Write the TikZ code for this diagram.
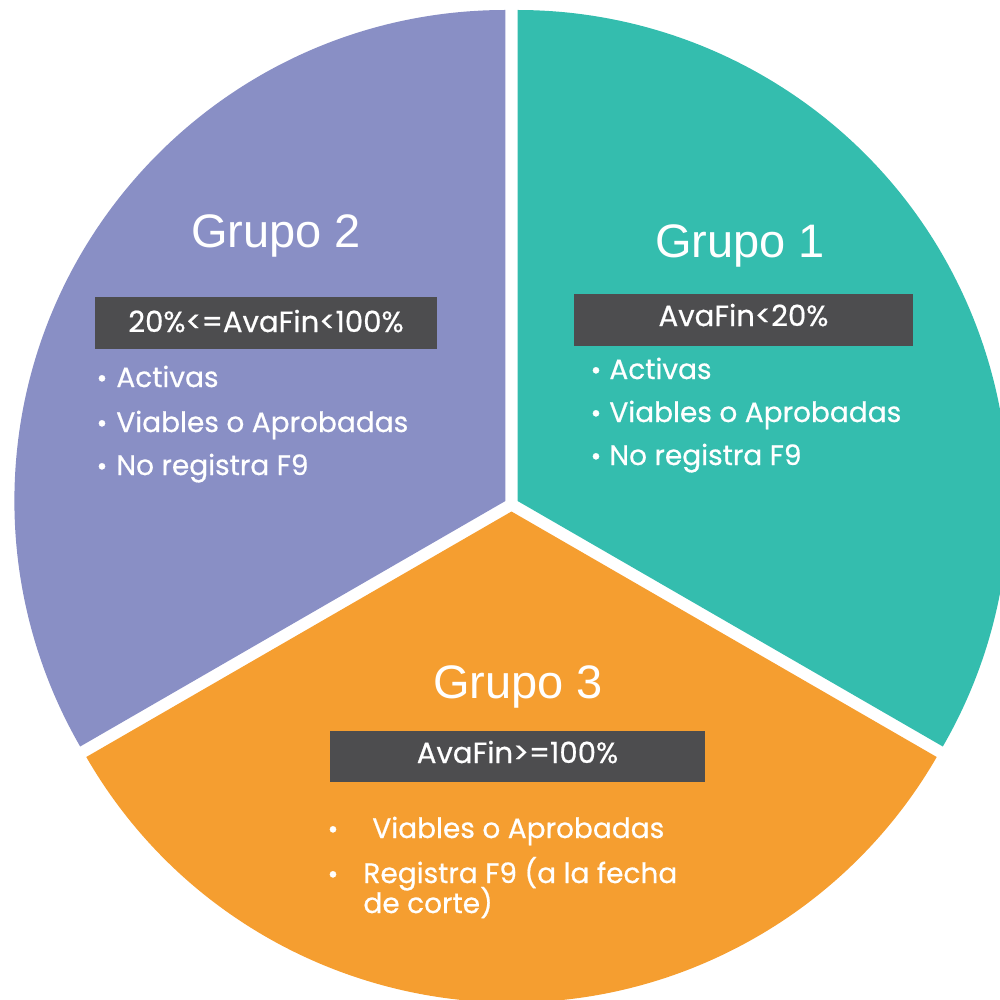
\documentclass[tikz,border=0pt]{standalone}
\usepackage{fontspec}
\setmainfont{Poppins}[FakeBold=0.6]
\newfontfamily\titlefont{Liberation Sans}
\definecolor{gpurple}{RGB}{137,143,197}
\definecolor{gteal}{RGB}{52,189,174}
\definecolor{gorange}{RGB}{245,158,48}
\definecolor{gbox}{RGB}{77,77,79}
\tikzset{
  titletxt/.style={text=white, font=\titlefont\fontsize{23.5}{28}\selectfont, anchor=base, inner sep=0pt},
  condbox/.style={fill=gbox, inner sep=0pt},
  condtxt/.style={text=white, font=\fontsize{14.6}{17}\selectfont, anchor=base, inner sep=0pt},
  bodytxt/.style={text=white, font=\fontsize{14}{17}\selectfont, anchor=base west, inner sep=0pt},
  bul/.style={text=white, font=\fontsize{13}{16}\selectfont, anchor=base, inner sep=0pt},
}
\begin{document}
\begin{tikzpicture}[x=0.5pt,y=0.5pt]
\useasboundingbox (0,0) rectangle (1000,-1000);
\clip (0,0) rectangle (1000,-1000);
% sectors
\fill[gpurple] (505.4,-501) -- ++(90:491) arc[start angle=90, end angle=210, radius=491] -- cycle;
\fill[gteal] (517.6,-501) -- ++(-30:491) arc[start angle=-30, end angle=90, radius=491] -- cycle;
\fill[gorange] (511.5,-511.5) -- ++(210:491) arc[start angle=210, end angle=330, radius=491] -- cycle;
% titles
\node[titletxt] (t2) at (276,-248) {Grupo 2};
\node[titletxt] (t1) at (740,-257) {Grupo 1};
\node[titletxt] (t3) at (518,-698) {Grupo 3};
% condition boxes
\path[condbox] (95,-297) rectangle (437,-349);
\node[condtxt] (c2) at (266,-332) {20\%<=AvaFin<100\%};
\path[condbox] (574,-294) rectangle (913,-346);
\node[condtxt] (c1) at (743.5,-326) {AvaFin<20\%};
\path[condbox] (330,-731) rectangle (705,-782);
\node[condtxt] (c3) at (517.5,-763) {AvaFin>=100\%};
% group 2 bullets
\node[bul] (b21) at (102,-387) {\textbullet};
\node[bodytxt] (l21) at (116,-387) {Activas};
\node[bul] (b22) at (102,-432) {\textbullet};
\node[bodytxt] (l22) at (116,-432) {Viables o Aprobadas};
\node[bul] (b23) at (102,-475) {\textbullet};
\node[bodytxt] (l23) at (116,-475) {No registra F9};
% group 1 bullets
\node[bul] (b11) at (596,-379) {\textbullet};
\node[bodytxt] (l11) at (609,-379) {Activas};
\node[bul] (b12) at (596,-422) {\textbullet};
\node[bodytxt] (l12) at (609,-422) {Viables o Aprobadas};
\node[bul] (b13) at (596,-465) {\textbullet};
\node[bodytxt] (l13) at (609,-465) {No registra F9};
% group 3 bullets
\node[bul] (b31) at (333,-838) {\textbullet};
\node[bodytxt] (l31) at (372,-838) {Viables o Aprobadas};
\node[bul] (b32) at (333,-883) {\textbullet};
\node[bodytxt] (l32) at (363,-883) {Registra F9 (a la fecha};
\node[bodytxt] (l33) at (363,-913) {de corte)};
\end{tikzpicture}
\end{document}
